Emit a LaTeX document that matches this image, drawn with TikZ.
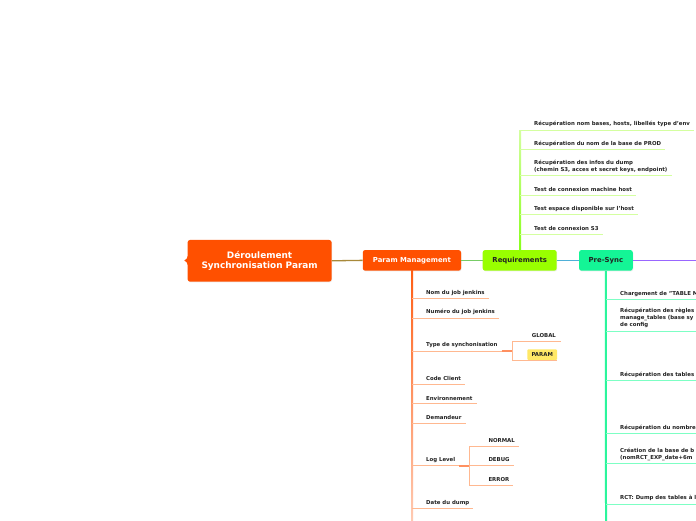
\documentclass[tikz,border=0pt]{standalone}
\usepackage{fontspec}
\setmainfont{DejaVu Sans}
\usetikzlibrary{calc,shadows}
\definecolor{rootor}{HTML}{FF5000}
\definecolor{reqgr}{HTML}{99FF00}
\definecolor{presy}{HTML}{14F596}
\definecolor{paramy}{HTML}{FFE866}
\definecolor{txt}{HTML}{222222}
\definecolor{reqleafc}{HTML}{D4FFA0}
\definecolor{pmleafc}{HTML}{FFB890}
\definecolor{pmsubc}{HTML}{FF9060}
\definecolor{psleafc}{HTML}{7DFFC4}
\definecolor{psvert}{HTML}{2BF59C}
\definecolor{c1}{HTML}{A8893A}
\definecolor{c2}{HTML}{77CC66}
\definecolor{c3}{HTML}{4FB0D8}
\definecolor{c4}{HTML}{9966FF}
\begin{document}
\begin{tikzpicture}[x=1pt,y=-1pt,
  mainbox/.style={rounded corners=2.5pt, inner sep=0pt, font=\bfseries\fontsize{6.9}{8}\selectfont, minimum height=20.7pt,
    drop shadow={opacity=0.15, shadow xshift=0.5pt, shadow yshift=-0.7pt}},
  leaf/.style={inner sep=0pt, anchor=west, text=txt, align=left, font=\bfseries\fontsize{5.4}{7.3}\selectfont},
  reqleaf/.style={draw=reqleafc, line width=0.9pt},
  pmleaf/.style={draw=pmleafc, line width=0.9pt},
  pmsub/.style={draw=pmsubc, line width=1.6pt},
  psleaf/.style={draw=psleafc, line width=0.9pt},
  link/.style={line width=1.3pt}
]
\useasboundingbox (0,0) rectangle (696,520);
\clip (0,0) rectangle (696,520);
\fill[white] (0,0) rectangle (696,520);

% ---- main nodes
\fill[rootor] (187.8,256) .. controls (187.5,258.5) and (186,259.5) .. (184.3,260.5) .. controls (186,261.5) and (187.5,262.5) .. (187.8,265) -- cycle;
\node[mainbox, fill=rootor, text=white, minimum width=144pt, minimum height=41.7pt, align=center,
      font=\bfseries\fontsize{8.9}{10.4}\selectfont] (root) at (259.6,260.8) {Déroulement\\Synchronisation Param};
\node[mainbox, fill=rootor, text=white, minimum width=98.3pt] (pm) at (411.9,260.35) {Param Management};
\node[mainbox, fill=reqgr, text=txt, minimum width=74pt] (req) at (519.7,260.35) {Requirements};
\node[mainbox, fill=presy, text=txt, minimum width=53.7pt] (ps) at (605.9,260.35) {Pre-Sync};
\coordinate (psend) at (700,260.35);

\draw[link, c1] (root.east) -- (pm.west);
\draw[link, c2] (pm.east) -- (req.west);
\draw[link, c3] (req.east) -- (ps.west);
\draw[link, c4] (ps.east) -- (psend);

% ---- Requirements branch
\shade[top color=reqleafc, bottom color=reqgr!80!green!90!white] (519,130) rectangle (521,250);
\node[leaf] (r1) at (534,124) {Récupération nom bases, hosts, libellés type d'env};
\node[leaf] (r2) at (534,143.5) {Récupération du nom de la base de PROD};
\node[leaf] (r3) at (534,166.3) {Récupération des infos du dump\\(chemin S3, acces et secret keys, endpoint)};
\node[leaf] (r4) at (534,189) {Test de connexion machine host};
\node[leaf] (r5) at (534,209) {Test espace disponible sur l'host};
\node[leaf] (r6) at (534,228) {Test de connexion S3};
\coordinate (r1s) at (520,130);
\coordinate (r2s) at (520,149.3);
\coordinate (r3s) at (520,175);
\coordinate (r4s) at (520,195);
\coordinate (r5s) at (520,214);
\coordinate (r6s) at (520,234);
\foreach \n in {r1,r2,r3,r4,r5,r6}{
  \draw[reqleaf] (\n s) -- ([xshift=4pt]\n.east |- \n s);
}

% ---- Param Management branch
\shade[top color=rootor!92!white, middle color=rootor!72!white, bottom color=rootor!30!white] (411,270.7) rectangle (413,520);
\node[leaf] (p1) at (426,293.3) {Nom du job jenkins};
\node[leaf] (p2) at (426,312.3) {Numéro du job jenkins};
\node[leaf] (p3) at (426,345) {Type de synchonisation};
\node[leaf] (p4) at (426,378.3) {Code Client};
\node[leaf] (p5) at (426,398.3) {Environnement};
\node[leaf] (p6) at (426,417.3) {Demandeur};
\node[leaf] (p7) at (426,460) {Log Level};
\node[leaf] (p8) at (426,503) {Date du dump};
\coordinate (p1s) at (412,298.3);
\coordinate (p2s) at (412,318.3);
\coordinate (p3s) at (412,351);
\coordinate (p4s) at (412,384);
\coordinate (p5s) at (412,403.3);
\coordinate (p6s) at (412,423.3);
\coordinate (p7s) at (412,465.7);
\coordinate (p8s) at (412,508.3);
\foreach \n in {p1,p2,p3,p4,p5,p6,p7,p8}{
  \draw[pmleaf] (\n s) -- ([xshift=4pt]\n.east |- \n s) coordinate (\n e);
}
% type de synchronisation sub-branch
\coordinate (tj) at (512,351);
\coordinate (tt) at (512,341.7);
\coordinate (tb) at (512,360.7);
\draw[pmsub] (p3e) -- (tj);
\draw[pmleaf] (tt) -- (tb);
\node[leaf] (glob) at (531.7,335.7) {GLOBAL};
\node[inner sep=0pt, fill=paramy, rounded corners=1pt, minimum width=29.7pt, minimum height=10.7pt,
      text=txt, font=\bfseries\fontsize{5.4}{7}\selectfont] (param) at (542.2,354.7) {PARAM};
\draw[pmleaf] (tt) -- ([xshift=5pt]glob.east |- tt);
\draw[pmleaf] (tb) -- (param.east |- tb);
% log level sub-branch
\coordinate (lj) at (469,465.7);
\coordinate (lt) at (469,446.7);
\coordinate (lb) at (469,485);
\draw[pmsub] (p7e) -- (lj);
\draw[pmleaf] (lt) -- (lb);
\node[leaf] (l1) at (488.3,440.7) {NORMAL};
\node[leaf] (l2) at (488.3,460) {DEBUG};
\node[leaf] (l3) at (488.3,479.7) {ERROR};
\draw[pmleaf] (lt) -- ([xshift=4pt]l1.east |- lt);
\draw[pmleaf] (lj) -- ([xshift=4pt]l2.east |- lj);
\draw[pmleaf] (lb) -- ([xshift=4pt]l3.east |- lb);

% ---- Pre-Sync branch
\coordinate (psbot) at (606,522);
\draw[psvert, line width=2pt] (ps.south) -- (psbot);
\node[leaf] (s1) at (620,294) {Chargement de "TABLE M};
\node[leaf] (s2) at (620,318) {Récupération des règles\\manage\_tables (base sy\\de config};
\node[leaf] (s3) at (620,375) {Récupération des tables};
\node[leaf] (s4) at (620,428) {Récupération du nombre};
\node[leaf] (s5) at (620,454.5) {Création de la base de b\\(nomRCT\_EXP\_date+6m};
\node[leaf] (s6) at (620,498) {RCT: Dump des tables à l};
\coordinate (s1s) at (606,299.5);
\coordinate (s2s) at (606,331);
\coordinate (s3s) at (606,380);
\coordinate (s4s) at (606,433.3);
\coordinate (s5s) at (606,463.5);
\coordinate (s6s) at (606,504.3);
\coordinate (pse) at (700,0);
\foreach \n in {s1,s2,s3,s4,s5,s6}{
  \draw[psleaf] (\n s) -- (pse |- \n s);
}
\end{tikzpicture}
\end{document}
